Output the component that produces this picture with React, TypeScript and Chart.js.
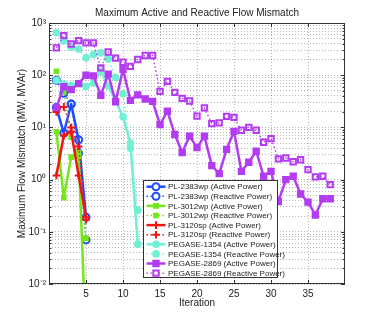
import React, { useEffect, useRef } from "react";
import { Chart, registerables } from "chart.js";
import { drawPoint } from "chart.js/helpers";

Chart.register(...registerables);

// ---------------- data ----------------
const iterations = [
  1, 2, 3, 4, 5, 6, 7, 8, 9, 10, 11, 12, 13, 14, 15, 16, 17, 18, 19, 20,
  21, 22, 23, 24, 25, 26, 27, 28, 29, 30, 31, 32, 33, 34, 35, 36, 37, 38,
];

const pl2383Active = [24, 7.8, 28, 5.8, 0.19];
const pl2383Reactive = [80, 45, 28, 3.2, 0.07];
const pl3012Active = [8.2, 0.45, 2.7, 3.3, 0.0007];
const pl3012Reactive = [119, 48, 6.5, 2.8, 0.075];
const pl3120Active = [1.2, 7, 8.3, 1.2, 0.19];
const pl3120Reactive = [19.7, 24.7, 10, 4.3, 0.17];
const pegase1354Active = [80, 68, 64, 70, 61, 71, 119, 62, 32, 16, 5, 0.058];
const pegase1354Reactive = [650, 450, 345, 318, 215, 248, 268, 205, 90, 44, 4.0, 0.26];
const pegase2869Active = [
  24, 60, 53, 69, 100, 97, 41, 105, 31, 130, 33, 42, 35, 31.6, 11.3, 20.4, 7.3, 3.3, 6.8, 4.1,
  6.8, 1.85, 1.3, 3.8, 8.4, 1.44, 2.15, 3.5, 1.16, 1.44, 0.38, 1.0, 1.16, 0.53, 0.37, 0.21, 0.43, 0.43,
];
const pegase2869Reactive = [
  333, 573, 395, 460, 415, 415, 138, 278, 212, 177, 148, 200, 238, 238, 49, 76, 47, 36, 32, 16.4,
  23.6, 11.8, 12.2, 16.3, 15.6, 8.8, 10, 8.8, 5.2, 6.1, 2.5, 2.6, 2.2, 2.4, 1.55, 1.13, 1.16, 0.8,
];

const seriesLabels = [
  "PL-2383wp (Active Power)",
  "PL-2383wp (Reactive Power)",
  "PL-3012wp (Active Power)",
  "PL-3012wp (Reactive Power)",
  "PL-3120sp (Active Power)",
  "PL-3120sp (Reactive Power)",
  "PEGASE-1354 (Active Power)",
  "PEGASE-1354 (Reactive Power)",
  "PEGASE-2869 (Active Power)",
  "PEGASE-2869 (Reactive Power)",
];

const xTickValues = [5, 10, 15, 20, 25, 30, 35];
const yTickValues = [
  0.01, 0.02, 0.03, 0.04, 0.05, 0.06, 0.07, 0.08, 0.09,
  0.1, 0.2, 0.3, 0.4, 0.5, 0.6, 0.7, 0.8, 0.9,
  1, 2, 3, 4, 5, 6, 7, 8, 9,
  10, 20, 30, 40, 50, 60, 70, 80, 90,
  100, 200, 300, 400, 500, 600, 700, 800, 900,
  1000,
];
const yMajorValues = [0.01, 0.1, 1, 10, 100, 1000];
const yMajorLabels = ["10⁻²", "10⁻¹", "10⁰", "10¹", "10²", "10³"];

const chartTitle = "Maximum Active and Reactive Flow Mismatch";
const xTitle = "Iteration";
const yTitle = "Maximum Flow Mismatch (MW, MVAr)";

// ---------------- styles ----------------
const FONT = '"Liberation Sans", Arial, Helvetica, sans-serif';
const TEXT = "#222222";
const BLUE = "#1f4cff";
const GREEN = "#74e61a";
const RED = "#f01414";
const CYAN = "#6ff0d4";
const PURPLE = "#b43cf0";

const seriesValues = [
  pl2383Active, pl2383Reactive, pl3012Active, pl3012Reactive, pl3120Active,
  pl3120Reactive, pegase1354Active, pegase1354Reactive, pegase2869Active, pegase2869Reactive,
];

type Style = {
  color: string;
  active: boolean;
  pointStyle: string;
  radius: number;
  filled: boolean;
};

const seriesStyles: Style[] = [
  { color: BLUE, active: true, pointStyle: "circle", radius: 3.5, filled: false },
  { color: BLUE, active: false, pointStyle: "circle", radius: 3.5, filled: false },
  { color: GREEN, active: true, pointStyle: "rect", radius: 2.6, filled: true },
  { color: GREEN, active: false, pointStyle: "rect", radius: 2.6, filled: true },
  { color: RED, active: true, pointStyle: "cross", radius: 3.8, filled: false },
  { color: RED, active: false, pointStyle: "cross", radius: 3.8, filled: false },
  { color: CYAN, active: true, pointStyle: "circle", radius: 2.8, filled: true },
  { color: CYAN, active: false, pointStyle: "circle", radius: 2.8, filled: true },
  { color: PURPLE, active: true, pointStyle: "rect", radius: 3.8, filled: true },
  { color: PURPLE, active: false, pointStyle: "rect", radius: 3.8, filled: false },
];

const ACTIVE_WIDTH = 2.5;
const REACTIVE_WIDTH = 1.4;
const REACTIVE_DASH = [1.5, 2.5];

const matlabPlugin = {
  id: "matlabDecor",
  afterDraw(chart: any) {
    const ctx = chart.ctx as CanvasRenderingContext2D;
    const { left, right, top, bottom } = chart.chartArea;
    const xs = chart.scales.x;
    const ys = chart.scales.y;
    ctx.save();
    // inward tick marks
    ctx.strokeStyle = "#333";
    ctx.lineWidth = 1;
    ctx.beginPath();
    for (const v of yTickValues) {
      const py = Math.round(ys.getPixelForValue(v)) + 0.5;
      const len = yMajorValues.indexOf(v) >= 0 ? 4 : 2.5;
      ctx.moveTo(left, py);
      ctx.lineTo(left + len, py);
      ctx.moveTo(right, py);
      ctx.lineTo(right - len, py);
    }
    for (const v of xTickValues) {
      const px = Math.round(xs.getPixelForValue(v)) + 0.5;
      ctx.moveTo(px, bottom);
      ctx.lineTo(px, bottom - 4);
      ctx.moveTo(px, top);
      ctx.lineTo(px, top + 4);
    }
    ctx.stroke();
    // box
    ctx.strokeRect(left + 0.5, top + 0.5, right - left - 1, bottom - top - 1);

    // title
    ctx.fillStyle = TEXT;
    ctx.font = `10px ${FONT}`;
    ctx.textAlign = "center";
    ctx.textBaseline = "middle";
    ctx.fillText(chartTitle, (left + right) / 2, 13);

    // legend
    const lx = 143.5;
    const ly = 180.5;
    const lw = 134;
    const lh = 97;
    ctx.fillStyle = "#ffffff";
    ctx.fillRect(lx, ly, lw, lh);
    ctx.strokeStyle = "#333";
    ctx.lineWidth = 1;
    ctx.strokeRect(lx, ly, lw, lh);
    ctx.font = `8px ${FONT}`;
    ctx.textAlign = "left";
    ctx.textBaseline = "middle";
    seriesLabels.forEach((label, i) => {
      const st = seriesStyles[i];
      const y = 186.7 + i * 9.6;
      ctx.save();
      ctx.strokeStyle = st.color;
      ctx.lineWidth = st.active ? ACTIVE_WIDTH : REACTIVE_WIDTH;
      ctx.setLineDash(st.active ? [] : REACTIVE_DASH);
      ctx.beginPath();
      ctx.moveTo(146.5, y);
      ctx.lineTo(165.5, y);
      ctx.stroke();
      ctx.setLineDash([]);
      ctx.strokeStyle = st.color;
      ctx.fillStyle = st.filled ? st.color : "#ffffff";
      ctx.lineWidth = 2;
      drawPoint(
        ctx,
        { pointStyle: st.pointStyle as any, radius: st.radius, borderWidth: 2, rotation: 0 },
        156,
        y
      );
      ctx.restore();
      ctx.fillStyle = TEXT;
      ctx.fillText(label, 168, y + 0.5);
    });
    ctx.restore();
  },
};

export default function App() {
  const canvasRef = useRef<HTMLCanvasElement | null>(null);

  useEffect(() => {
    if (!canvasRef.current) return;
    const datasets = seriesValues.map((vals, i) => {
      const st = seriesStyles[i];
      return {
        label: seriesLabels[i],
        data: vals.map((v, k) => ({ x: iterations[k], y: v })),
        borderColor: st.color,
        backgroundColor: st.color,
        borderWidth: st.active ? ACTIVE_WIDTH : REACTIVE_WIDTH,
        borderDash: st.active ? [] : REACTIVE_DASH,
        borderJoinStyle: "round" as const,
        pointStyle: st.pointStyle as any,
        pointRadius: st.radius,
        pointBorderWidth: 2,
        pointBorderColor: st.color,
        pointBackgroundColor: st.filled ? st.color : "rgba(0,0,0,0)",
        tension: 0,
        fill: false,
        order: 9 - i,
      };
    });

    const chart = new Chart(canvasRef.current, {
      type: "line",
      data: { datasets },
      options: {
        animation: false,
        responsive: true,
        maintainAspectRatio: false,
        layout: { padding: { top: 23, right: 36, left: 0, bottom: 0 } },
        plugins: {
          legend: { display: false },
          tooltip: { enabled: false },
          title: { display: false },
        },
        scales: {
          x: {
            type: "linear",
            min: 0,
            max: 40,
            afterBuildTicks: (s: any) => {
              s.ticks = xTickValues.map((v) => ({ value: v }));
            },
            afterFit: (s: any) => {
              s.height = 36;
            },
            ticks: {
              autoSkip: false,
              maxRotation: 0,
              padding: 4,
              color: TEXT,
              font: { family: FONT, size: 10 },
              callback: (v: any) => String(v),
            },
            grid: {
              color: "rgba(0,0,0,0.28)",
              lineWidth: 1,
              drawTicks: false,
            },
            border: { display: false, dash: [1, 2] },
            title: {
              display: true,
              text: xTitle,
              color: TEXT,
              font: { family: FONT, size: 10 },
              padding: { top: 0, bottom: 11 },
            },
          },
          y: {
            type: "logarithmic",
            min: 0.01,
            max: 1000,
            afterBuildTicks: (s: any) => {
              s.ticks = yTickValues.map((v) => ({
                value: v,
                major: yMajorValues.indexOf(v) >= 0,
              }));
            },
            afterFit: (s: any) => {
              s.width = 49;
            },
            ticks: {
              autoSkip: false,
              padding: 3,
              color: TEXT,
              font: { family: FONT, size: 10 },
              callback: (v: any) => {
                const idx = yMajorValues.findIndex((m) => Math.abs(m - Number(v)) / m < 1e-6);
                return idx >= 0 ? yMajorLabels[idx] : "";
              },
            },
            grid: {
              color: "rgba(0,0,0,0.28)",
              lineWidth: 1,
              drawTicks: false,
            },
            border: { display: false, dash: [1, 2] },
            title: {
              display: true,
              text: yTitle,
              color: TEXT,
              font: { family: FONT, size: 10 },
              padding: { top: 16, bottom: 0 },
            },
          },
        },
      },
      plugins: [matlabPlugin],
    });
    return () => chart.destroy();
  }, []);

  return (
    <div
      style={{
        position: "fixed",
        left: 0,
        top: 0,
        width: 381,
        height: 320,
        background: "#ffffff",
      }}
    >
      <canvas ref={canvasRef} />
    </div>
  );
}
